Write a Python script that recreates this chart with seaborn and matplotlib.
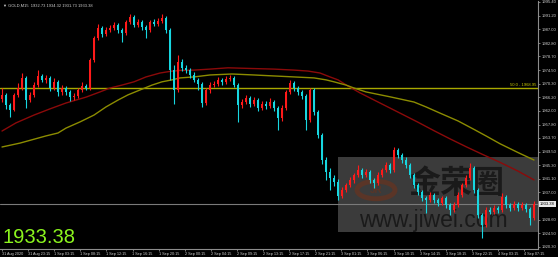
import matplotlib
matplotlib.use("Agg")
import matplotlib.pyplot as plt
import matplotlib.patches as mpatches
import numpy as np
import pandas as pd
import seaborn as sns

# ---------------- data ----------------
symbol_title = "GOLD,M15  1932.73 1934.32 1931.73 1933.38"
last_price = 1933.38
fib_level = 1968.95
fib_label = "50.0 - 1968.95"
first_open = 1965.5

close = [
    1966.9, 1963.8, 1962.3, 1966.9, 1969.0, 1972.1, 1965.3, 1966.9, 1970.0, 1972.7,
    1971.5, 1972.1, 1969.0, 1970.9, 1967.8, 1969.0, 1967.8, 1966.1, 1966.6, 1968.4,
    1969.6, 1969.0, 1977.6, 1984.3, 1987.4, 1985.6, 1986.8, 1987.4, 1988.3, 1986.8,
    1985.9, 1989.3, 1990.8, 1988.3, 1989.3, 1987.7, 1986.8, 1989.3, 1988.6, 1989.6,
    1990.5, 1986.8, 1974.5, 1968.4, 1977.0, 1975.2, 1974.5, 1973.0, 1971.5, 1970.2,
    1964.4, 1968.4, 1970.0, 1970.2, 1971.5, 1970.9, 1971.8, 1972.1, 1970.0, 1963.8,
    1964.7, 1966.0, 1964.1, 1965.3, 1962.9, 1964.1, 1963.5, 1964.7, 1962.9, 1959.8,
    1962.9, 1967.8, 1970.5, 1969.0, 1967.8, 1966.6, 1959.2, 1968.4, 1961.7, 1954.6,
    1946.9, 1943.2, 1941.4, 1940.1, 1935.9, 1937.7, 1939.2, 1940.8, 1942.3, 1943.8,
    1942.3, 1943.2, 1940.8, 1939.8, 1942.3, 1943.8, 1945.4, 1943.8, 1950.0, 1948.4,
    1946.9, 1945.4, 1942.3, 1939.2, 1937.0, 1935.2, 1934.6, 1936.2, 1934.6, 1933.7,
    1935.2, 1933.1, 1931.6, 1933.1, 1936.2, 1939.2, 1941.4, 1944.5, 1937.7, 1930.0,
    1927.0, 1931.6, 1931.0, 1932.2, 1931.6, 1935.6, 1933.1, 1932.2, 1933.4, 1932.2,
    1933.1, 1931.9, 1929.2, 1933.38,
]
high = [
    1969.0, 1967.5, 1964.5, 1967.6, 1970.4, 1973.6, 1972.8, 1967.8, 1970.8, 1974.5,
    1973.4, 1973.0, 1972.8, 1972.1, 1971.5, 1969.8, 1969.6, 1968.4, 1967.4, 1969.1,
    1970.9, 1970.3, 1978.3, 1985.0, 1988.6, 1988.0, 1987.6, 1988.2, 1989.3, 1988.9,
    1987.5, 1990.0, 1991.8, 1991.3, 1990.1, 1989.9, 1988.4, 1990.0, 1990.1, 1990.4,
    1991.6, 1991.0, 1987.3, 1976.0, 1979.1, 1977.8, 1976.1, 1975.2, 1973.8, 1972.2,
    1970.8, 1969.0, 1970.7, 1971.2, 1972.3, 1972.2, 1972.6, 1972.9, 1972.7, 1970.6,
    1965.6, 1966.9, 1966.7, 1966.3, 1966.0, 1965.0, 1964.9, 1965.8, 1965.4, 1963.6,
    1963.7, 1968.5, 1971.5, 1971.2, 1969.7, 1968.5, 1967.2, 1969.0, 1969.0, 1962.4,
    1955.3, 1947.8, 1944.6, 1942.2, 1941.0, 1938.5, 1940.0, 1941.6, 1943.0, 1945.4,
    1944.5, 1944.1, 1943.9, 1941.5, 1943.1, 1944.6, 1946.3, 1946.1, 1950.9, 1950.6,
    1949.2, 1947.7, 1946.1, 1943.0, 1940.0, 1937.8, 1936.0, 1937.0, 1936.9, 1935.4,
    1936.0, 1935.9, 1933.8, 1933.9, 1937.0, 1940.0, 1942.2, 1945.9, 1945.2, 1938.4,
    1930.8, 1932.4, 1932.4, 1933.0, 1932.9, 1936.8, 1936.2, 1933.8, 1934.2, 1934.0,
    1933.9, 1933.7, 1932.5, 1934.32,
]
low = [
    1964.8, 1962.5, 1960.1, 1961.8, 1966.2, 1968.4, 1962.9, 1964.6, 1966.3, 1969.4,
    1970.7, 1970.6, 1968.2, 1968.4, 1966.6, 1967.0, 1967.0, 1965.0, 1965.4, 1966.0,
    1967.8, 1968.3, 1968.5, 1977.0, 1983.8, 1984.7, 1985.0, 1986.1, 1986.9, 1986.0,
    1983.0, 1985.3, 1988.7, 1987.6, 1987.7, 1986.9, 1984.2, 1986.2, 1987.9, 1988.0,
    1988.9, 1986.0, 1971.5, 1964.1, 1967.8, 1974.3, 1973.6, 1972.2, 1970.8, 1968.4,
    1963.2, 1963.8, 1967.6, 1969.3, 1969.6, 1970.0, 1970.2, 1971.0, 1969.2, 1958.5,
    1962.9, 1964.0, 1963.2, 1963.5, 1962.0, 1962.2, 1962.6, 1962.8, 1961.9, 1956.1,
    1959.0, 1962.3, 1967.2, 1968.2, 1966.9, 1965.6, 1956.1, 1958.6, 1960.8, 1953.7,
    1945.8, 1940.8, 1937.7, 1938.9, 1934.6, 1935.1, 1937.0, 1938.5, 1940.0, 1941.6,
    1941.5, 1941.6, 1940.0, 1938.3, 1939.2, 1941.6, 1943.1, 1942.9, 1943.2, 1947.5,
    1946.0, 1944.6, 1941.5, 1938.4, 1936.2, 1934.4, 1930.6, 1933.9, 1933.8, 1932.9,
    1933.0, 1932.3, 1930.0, 1931.0, 1932.5, 1935.6, 1938.6, 1940.8, 1936.9, 1929.2,
    1923.0, 1926.3, 1930.2, 1930.4, 1930.8, 1931.0, 1932.3, 1931.4, 1931.6, 1931.4,
    1931.5, 1931.0, 1927.0, 1928.6,
]

# moving averages, read at these candle positions
ma_red_idx = [0, 3.5, 8, 12, 16, 21, 24.5, 27, 30, 33, 36, 39.5, 42, 44.5, 48, 52, 56.5, 62,
              68, 73, 76.5, 79.5, 82, 84, 86.5, 89.5, 94.5, 99.5, 104, 108, 112, 116, 120,
              124.5, 129, 133]
ma_red = [1955.8, 1958.3, 1960.7, 1962.6, 1964.4, 1966.2, 1967.8, 1969.0, 1969.9, 1970.9,
          1972.4, 1973.6, 1974.1, 1974.4, 1974.5, 1974.8, 1975.2, 1975.0, 1974.8, 1974.5,
          1974.2, 1973.6, 1972.4, 1971.5, 1969.6, 1967.5, 1964.4, 1961.3, 1958.5, 1955.9,
          1953.4, 1951.0, 1948.7, 1946.2, 1943.5, 1940.8]
ma_olive_idx = [0, 4.5, 11, 14, 16, 19.5, 23, 26, 29, 31.5, 34.5, 37.5, 40, 42.5, 44.5, 48,
                52, 57.5, 63, 68, 73, 78, 81, 83, 86, 88, 91, 97, 103, 106, 109.5, 114, 118,
                121, 124.5, 129, 133]
ma_olive = [1950.9, 1952.1, 1954.3, 1955.2, 1956.7, 1958.6, 1960.7, 1963.2, 1965.3, 1966.9,
            1968.4, 1969.9, 1970.9, 1971.5, 1972.1, 1972.4, 1973.0, 1973.3, 1973.0, 1972.7,
            1972.4, 1972.1, 1971.5, 1970.9, 1969.9, 1969.0, 1967.8, 1966.3, 1964.7, 1963.2,
            1961.3, 1958.9, 1956.3, 1954.3, 1951.9, 1949.2, 1946.9]

ytick_labels = ["1995.40", "1991.20", "1987.00", "1982.80", "1978.70", "1974.50", "1970.30",
                "1966.20", "1962.00", "1957.80", "1953.70", "1949.50", "1945.30", "1941.10",
                "1937.00", "1928.60", "1924.50", "1920.30"]
xtick_labels = ["31 Aug 2020", "31 Aug 23:15", "1 Sep 03:15", "1 Sep 08:15", "1 Sep 12:15",
                "1 Sep 16:15", "1 Sep 20:15", "2 Sep 00:15", "2 Sep 04:15", "2 Sep 09:15",
                "2 Sep 13:15", "2 Sep 17:15", "2 Sep 21:15", "3 Sep 01:15", "3 Sep 06:15",
                "3 Sep 10:15", "3 Sep 14:15", "3 Sep 18:15", "3 Sep 22:15", "4 Sep 03:15",
                "4 Sep 07:15"]
candles_per_label = 6.525

# ---------------- style ----------------
sns.set_theme(style="dark")
plt.rcParams["font.family"] = ["Liberation Sans", "DejaVu Sans"]

BG = "#000000"
UP = "#ff1a1a"
DOWN = "#17d6e0"
AXC = "#8c8c8c"
TXT = "#d0d0d0"

W, H = 558, 257
fig = plt.figure(figsize=(W / 100, H / 100), dpi=100, facecolor=BG)
ax = fig.add_axes([0, 8 / H, 538 / W, 248 / H])
ax.set_facecolor(BG)

n = len(close)
opens = [first_open] + close[:-1]
df = pd.DataFrame({"idx": np.arange(n), "open": opens, "close": close,
                   "high": high, "low": low})
df["up"] = df["close"] >= df["open"]
df["bottom"] = df[["open", "close"]].min(axis=1)
df["height"] = (df["close"] - df["open"]).abs().clip(lower=0.3)
df["color"] = np.where(df["up"], UP, DOWN)

# watermark (behind candles)
ax.add_patch(mpatches.Rectangle((338 / W, 25 / H), 200 / W, 75 / H,
                                transform=fig.transFigure, facecolor="#3b3b3b",
                                edgecolor="none", zorder=0.5))
ax.add_patch(mpatches.Circle((376 / W, (H - 190) / H), 19 / W, transform=fig.transFigure,
                             fill=False, edgecolor="#5a3527", lw=3.5, zorder=0.6))
ax.text(376 / W, (H - 190) / H, "JR", color="#5a3527", fontsize=7, ha="center",
        va="center", fontweight="bold", zorder=0.6, transform=fig.transFigure)
ax.text(456 / W, (H - 184) / H, "金荣圈", color="#1a1a1a", fontsize=23, ha="center",
        va="center", family=["Noto Sans CJK SC", "DejaVu Sans"], fontweight="bold",
        zorder=0.6, transform=fig.transFigure)
ax.text(433 / W, (H - 220) / H, "www.jiwei.com", color="#1a1a1a", fontsize=16.5,
        ha="center", va="center", zorder=0.6, transform=fig.transFigure)

# fib level and current price line
ax.axhline(fib_level, color="#a8a800", lw=1.0, zorder=1)
ax.text(133.6, fib_level + 0.3, fib_label, color="#c8c800", fontsize=3.0,
        ha="right", va="bottom", zorder=5)
ax.axhline(last_price, color="#7a7a7a", lw=0.8, zorder=1)

# moving averages
sns.lineplot(x=ma_red_idx, y=ma_red, ax=ax, color="#8b0a0a", lw=1.0, zorder=2)
sns.lineplot(x=ma_olive_idx, y=ma_olive, ax=ax, color="#8c8c00", lw=1.0, zorder=2)

# candles
ax.vlines(df["idx"], df["low"], df["high"], colors=df["color"], lw=0.8, zorder=3)
ax.bar(df["idx"], df["height"], bottom=df["bottom"], width=0.62, color=df["color"],
       edgecolor="none", zorder=4)

# axes
ax.set_xlim(-0.5, 134)
ax.set_ylim(1919.6, 1995.7)
for s in ["top", "left"]:
    ax.spines[s].set_visible(False)
for s in ["right", "bottom"]:
    ax.spines[s].set_color(AXC)
    ax.spines[s].set_linewidth(0.8)
ax.grid(False)

ax.yaxis.tick_right()
yvals = [float(v) for v in ytick_labels]
ax.set_yticks(yvals)
ax.set_yticklabels(ytick_labels)
ax.tick_params(axis="y", right=True, left=False, length=1.5, width=0.6, color=AXC,
               labelsize=3.0, labelcolor=TXT, pad=1.0)

xpos = [k * candles_per_label for k in range(len(xtick_labels))]
ax.set_xticks(xpos)
ax.set_xticklabels(xtick_labels, ha="left")
ax.tick_params(axis="x", bottom=True, length=1.5, width=0.6, color=AXC,
               labelsize=2.7, labelcolor=TXT, pad=1.0)
ax.set_xlabel("")
ax.set_ylabel("")

# title text inside chart
ax.text(0.006, 0.988, "▼ " + symbol_title, transform=ax.transAxes, color=TXT,
        fontsize=2.9, ha="left", va="top", zorder=6)

# big current price text
fig.text(2 / W, (H - 243) / H, f"{last_price:.2f}", color="#8cf51e", fontsize=14.5,
         ha="left", va="baseline", zorder=6)

# price box on right axis
ax.annotate(f"{last_price:.2f}", xy=(1.0, last_price), xycoords=("axes fraction", "data"),
            xytext=(1.5, 0), textcoords="offset points", color="#000000", fontsize=3.0,
            ha="left", va="center",
            bbox=dict(boxstyle="square,pad=0.25", facecolor="#e8e8e8", edgecolor="none"),
            annotation_clip=False, zorder=7)

fig.savefig("out.png", dpi=100, facecolor=BG)
